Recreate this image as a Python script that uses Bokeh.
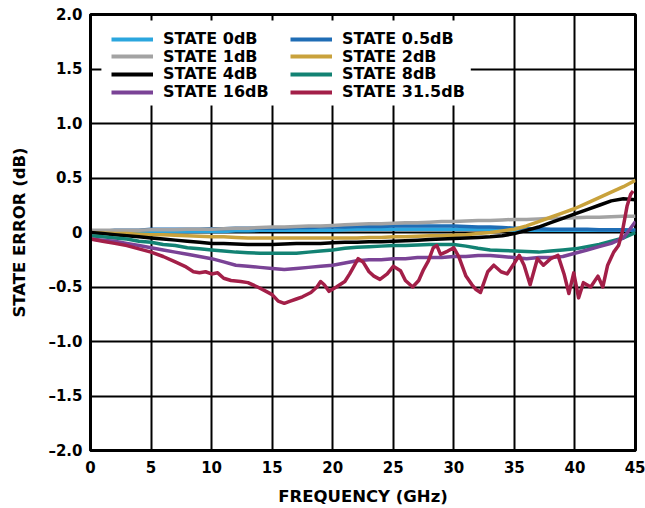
from bokeh.plotting import figure
from bokeh.models import Legend, LegendItem, BoxAnnotation, FixedTicker
from bokeh.embed import file_html
from bokeh.resources import INLINE

# Frequency grid (GHz) for the smooth states
freq = [0, 1, 2, 3, 4, 5, 6, 7, 8, 9, 10, 11, 12, 13, 14, 15, 16, 17, 18, 19, 20, 21, 22,
        23, 24, 25, 26, 27, 28, 29, 30, 31, 32, 33, 34, 35, 36, 37, 38, 39, 40, 41, 42, 43, 44, 45]

state_0db = [0.00, 0.00, 0.01, 0.01, 0.01, 0.01, 0.01, 0.01, 0.01, 0.01, 0.01, 0.01, 0.015, 0.015,
             0.02, 0.02, 0.02, 0.02, 0.02, 0.02, 0.02, 0.025, 0.03, 0.03, 0.03, 0.03, 0.03, 0.03,
             0.03, 0.03, 0.03, 0.03, 0.03, 0.03, 0.025, 0.02, 0.02, 0.02, 0.02, 0.02, 0.02, 0.02,
             0.02, 0.02, 0.02, 0.02]
state_0p5db = [0.01, 0.01, 0.02, 0.02, 0.02, 0.03, 0.03, 0.03, 0.03, 0.03, 0.035, 0.035, 0.04, 0.04,
               0.04, 0.04, 0.04, 0.045, 0.045, 0.05, 0.05, 0.05, 0.055, 0.055, 0.055, 0.06, 0.06,
               0.06, 0.06, 0.06, 0.06, 0.055, 0.05, 0.05, 0.045, 0.04, 0.035, 0.035, 0.03, 0.03,
               0.03, 0.03, 0.025, 0.025, 0.025, 0.02]
state_1db = [0.02, 0.02, 0.02, 0.02, 0.02, 0.025, 0.025, 0.025, 0.03, 0.03, 0.03, 0.035, 0.04, 0.04,
             0.045, 0.05, 0.05, 0.055, 0.06, 0.06, 0.065, 0.07, 0.075, 0.08, 0.08, 0.085, 0.09, 0.09,
             0.095, 0.10, 0.10, 0.105, 0.11, 0.11, 0.115, 0.12, 0.12, 0.125, 0.13, 0.13, 0.135, 0.14,
             0.14, 0.145, 0.15, 0.15]
state_2db = [0.00, -0.005, -0.01, -0.01, -0.015, -0.02, -0.02, -0.025, -0.03, -0.035, -0.04, -0.04,
             -0.045, -0.05, -0.05, -0.05, -0.05, -0.05, -0.05, -0.05, -0.05, -0.05, -0.05, -0.045,
             -0.045, -0.04, -0.04, -0.035, -0.03, -0.03, -0.025, -0.02, -0.01, 0.00, 0.015, 0.03,
             0.06, 0.10, 0.14, 0.18, 0.22, 0.27, 0.32, 0.37, 0.42, 0.48]
state_4db = [0.00, -0.01, -0.02, -0.03, -0.04, -0.05, -0.06, -0.07, -0.08, -0.09, -0.10, -0.10,
             -0.105, -0.11, -0.11, -0.11, -0.105, -0.10, -0.10, -0.10, -0.095, -0.09, -0.09, -0.085,
             -0.085, -0.08, -0.075, -0.07, -0.065, -0.06, -0.055, -0.05, -0.045, -0.04, -0.03,
             -0.01, 0.02, 0.05, 0.09, 0.13, 0.17, 0.21, 0.25, 0.29, 0.31, 0.30]
state_8db = [-0.03, -0.04, -0.05, -0.06, -0.08, -0.09, -0.11, -0.12, -0.14, -0.15, -0.16, -0.17,
             -0.18, -0.185, -0.19, -0.19, -0.19, -0.19, -0.18, -0.17, -0.16, -0.145, -0.135, -0.13,
             -0.125, -0.12, -0.12, -0.115, -0.11, -0.11, -0.11, -0.125, -0.145, -0.16, -0.165,
             -0.17, -0.175, -0.18, -0.17, -0.16, -0.15, -0.13, -0.11, -0.08, -0.05, 0.00]
state_16db = [-0.06, -0.07, -0.08, -0.10, -0.12, -0.14, -0.16, -0.18, -0.20, -0.22, -0.24, -0.27,
              -0.30, -0.31, -0.32, -0.33, -0.34, -0.33, -0.32, -0.31, -0.30, -0.28, -0.26, -0.25,
              -0.25, -0.24, -0.24, -0.23, -0.23, -0.23, -0.22, -0.22, -0.21, -0.21, -0.22, -0.23,
              -0.24, -0.23, -0.23, -0.22, -0.19, -0.16, -0.13, -0.10, -0.05, 0.10]

# The 31.5 dB state is ripply, so it is sampled more densely
freq_31p5 = [0, 1, 2, 3, 4, 5, 6, 7, 7.8, 8.5, 9, 9.5, 10, 10.5, 11, 11.6, 12.4, 13, 13.8, 14.5,
             15, 15.5, 16, 16.5, 17, 17.5, 18.2, 18.7, 19, 19.3, 19.7, 20.3, 21, 21.4, 21.7, 22.1,
             22.5, 23, 23.4, 23.9, 24.5, 25, 25.6, 26, 26.6, 27.1, 27.5, 27.9, 28.3, 28.6, 28.9,
             29.5, 30, 30.4, 31, 31.5, 31.8, 32.2, 32.8, 33.3, 33.9, 34.4, 35, 35.4, 35.8, 36.3,
             36.9, 37.4, 38, 38.6, 39.1, 39.5, 39.9, 40.3, 40.7, 41.3, 41.9, 42.3, 42.7, 43.2,
             43.6, 43.9, 44.3, 44.6, 44.8]
state_31p5db = [-0.06, -0.08, -0.10, -0.12, -0.15, -0.18, -0.22, -0.27, -0.31, -0.36, -0.37, -0.36,
                -0.38, -0.37, -0.42, -0.44, -0.45, -0.46, -0.50, -0.54, -0.57, -0.63, -0.65, -0.63,
                -0.61, -0.59, -0.55, -0.50, -0.45, -0.48, -0.54, -0.50, -0.45, -0.38, -0.32, -0.24,
                -0.27, -0.36, -0.40, -0.43, -0.38, -0.31, -0.35, -0.44, -0.50, -0.44, -0.34, -0.26,
                -0.14, -0.12, -0.20, -0.17, -0.14, -0.22, -0.40, -0.48, -0.52, -0.55, -0.36, -0.30,
                -0.36, -0.38, -0.28, -0.21, -0.30, -0.48, -0.24, -0.30, -0.24, -0.21, -0.38, -0.56,
                -0.37, -0.60, -0.46, -0.50, -0.40, -0.50, -0.30, -0.18, -0.12, 0.00, 0.24, 0.35, 0.38]

labels = ["STATE 0dB", "STATE 0.5dB", "STATE 1dB", "STATE 2dB",
          "STATE 4dB", "STATE 8dB", "STATE 16dB", "STATE 31.5dB"]
colors = ["#2ba6de", "#1f6db5", "#a3a3a3", "#c9a23c",
          "#000000", "#128273", "#7a4396", "#a31f48"]

y_ticks = [-2.0, -1.5, -1.0, -0.5, 0.0, 0.5, 1.0, 1.5, 2.0]
y_tick_labels = ["\u20132.0", "\u20131.5", "\u20131.0", "\u20130.5", "0", "0.5", "1.0", "1.5", "2.0"]
x_ticks = [0, 5, 10, 15, 20, 25, 30, 35, 40, 45]

FONT = "DejaVu Sans"

p = figure(width=645, height=508, x_range=(0, 45), y_range=(-2, 2),
           output_backend="svg", toolbar_location=None,
           min_border_left=90, min_border_right=10, min_border_top=14, min_border_bottom=58)

p.background_fill_color = "white"
p.border_fill_color = "white"
p.outline_line_color = "black"
p.outline_line_width = 3
p.outline_line_alpha = 1

p.grid.grid_line_color = "black"
p.grid.grid_line_width = 2
p.grid.grid_line_alpha = 1
p.xgrid.ticker = FixedTicker(ticks=x_ticks)
p.ygrid.ticker = FixedTicker(ticks=y_ticks)

p.xaxis.ticker = FixedTicker(ticks=x_ticks)
p.yaxis.ticker = FixedTicker(ticks=y_ticks)
p.yaxis.major_label_overrides = dict(zip(y_ticks, y_tick_labels))

for ax in (p.xaxis, p.yaxis):
    ax.axis_line_width = 3
    ax.axis_line_color = "black"
    ax.major_tick_in = 0
    ax.major_tick_out = 0
    ax.minor_tick_in = 0
    ax.minor_tick_out = 0
    ax.major_label_text_font = FONT
    ax.major_label_text_font_style = "bold"
    ax.major_label_text_font_size = "15px"
    ax.major_label_text_color = "black"
    ax.axis_label_text_font = FONT
    ax.axis_label_text_font_style = "bold"
    ax.axis_label_text_font_size = "16.5px"
    ax.axis_label_text_color = "black"

p.xaxis.axis_label = "FREQUENCY (GHz)"
p.yaxis.axis_label = "STATE ERROR (dB)"
p.xaxis.major_label_standoff = 10
p.yaxis.major_label_standoff = 8
p.xaxis.axis_label_standoff = 11
p.yaxis.axis_label_standoff = 16

# White panel behind the legend block, hiding the grid there
p.add_layout(BoxAnnotation(left=0.9, right=31.4, top=1.945, bottom=1.165,
                           fill_color="white", fill_alpha=1, line_alpha=0))

series = [(freq, state_0db), (freq, state_0p5db), (freq, state_1db), (freq, state_2db),
          (freq, state_4db), (freq, state_8db), (freq, state_16db), (freq_31p5, state_31p5db)]

for (xs, ys), c in zip(series, colors):
    p.line(xs, ys, line_color=c, line_width=3.5, line_join="round")

# Legend swatches drawn slightly heavier than the traces (no visible points of their own)
nan = float("nan")
swatches = [p.line([nan, nan], [nan, nan], line_color=c, line_width=4) for c in colors]

legend_style = dict(background_fill_alpha=0, border_line_alpha=0,
                    label_text_font=FONT, label_text_font_style="bold",
                    label_text_font_size="16px", label_text_color="black",
                    glyph_width=42, glyph_height=20, label_height=20,
                    spacing=0, padding=0, margin=0, label_standoff=10)

# Two-column legend laid out row by row (offsets from the frame's lower-left corner)
col_x = [21, 200]
row_y = [401.5, 384, 366.5, 348.5]
for i, (lab, sw) in enumerate(zip(labels, swatches)):
    row, col = divmod(i, 2)
    p.add_layout(Legend(items=[LegendItem(label=lab, renderers=[sw])],
                        location=(col_x[col], row_y[row]), **legend_style))

open("out.html", "w").write(file_html(p, INLINE))
